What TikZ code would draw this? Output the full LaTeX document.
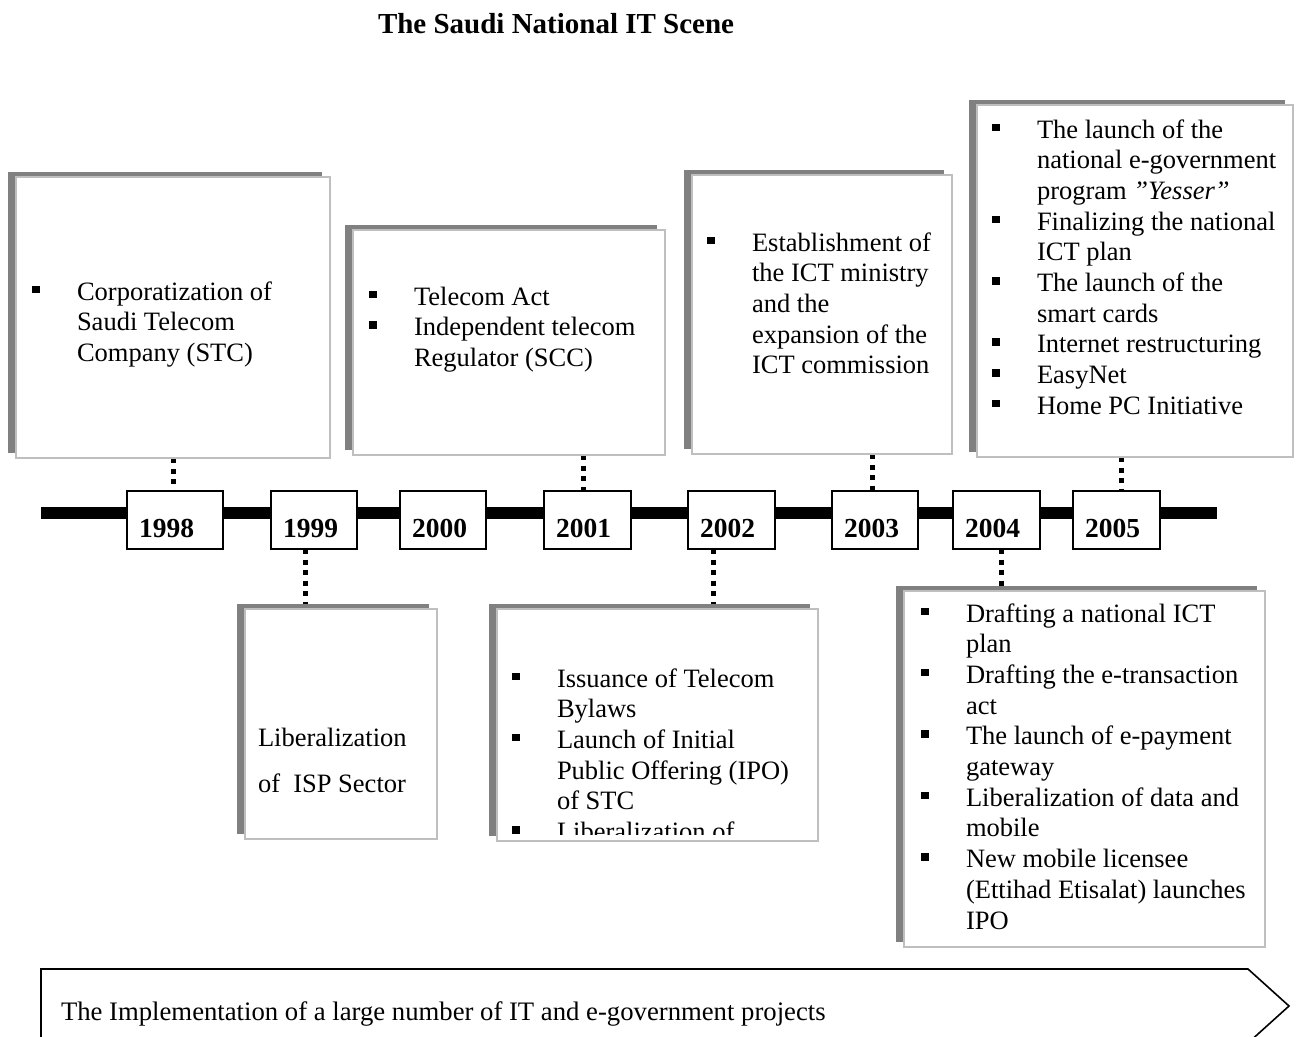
\documentclass[tikz,border=0pt]{standalone}
\usepackage{fontspec}
\setmainfont{Liberation Serif}
\usetikzlibrary{shadows,backgrounds}
\newcommand\bul{\llap{\rule[7pt]{7.5pt}{7.5pt}\hspace{37.5pt}}}
\newcommand\lns[1]{\begin{tabular}[t]{@{}l@{}}#1\end{tabular}}
\begin{document}
\begin{tikzpicture}[x=1pt,y=-1pt,
  every node/.style={inner sep=0pt, outer sep=0pt},
  card/.style={draw=black!25, line width=2pt, fill=white, anchor=north west,
    drop shadow={shadow xshift=-8pt, shadow yshift=5pt, fill=black!50, opacity=1}},
  yearbox/.style={draw=black, line width=2pt, fill=white, anchor=north west,
    minimum height=58pt, minimum width=87pt},
  yearlbl/.style={anchor=base west, font=\fontsize{27.5}{31}\selectfont\bfseries},
  body/.style={anchor=base west, align=left, font=\fontsize{26.5}{30.7}\selectfont},
  dotline/.style={line width=5pt, dash pattern=on 5pt off 5.5pt},
]
\useasboundingbox (0,0) rectangle (1301,1036);

% title
\node[anchor=base west, font=\fontsize{29}{34}\selectfont\bfseries] (title) at (378,33) {The Saudi National IT Scene};

% year boxes
\node[yearbox, minimum width=96pt] (y1998) at (127,491) {};
\node[yearbox, minimum width=86pt] (y1999) at (271,491) {};
\node[yearbox, minimum width=86pt] (y2000) at (400,491) {};
\node[yearbox, minimum width=87pt] (y2001) at (544,491) {};
\node[yearbox, minimum width=87pt] (y2002) at (688,491) {};
\node[yearbox, minimum width=86pt] (y2003) at (832,491) {};
\node[yearbox, minimum width=87pt] (y2004) at (953,491) {};
\node[yearbox, minimum width=87pt] (y2005) at (1073,491) {};
\node[yearlbl] (t1998) at (139,537) {1998};
\node[yearlbl] (t1999) at (283,537) {1999};
\node[yearlbl] (t2000) at (412,537) {2000};
\node[yearlbl] (t2001) at (556,537) {2001};
\node[yearlbl] (t2002) at (700,537) {2002};
\node[yearlbl] (t2003) at (844,537) {2003};
\node[yearlbl] (t2004) at (965,537) {2004};
\node[yearlbl] (t2005) at (1085,537) {2005};

% cards
\node[card, minimum width=314pt, minimum height=281pt] (b1998) at (16,177) {};
\node[card, minimum width=312pt, minimum height=225pt] (b2001) at (353,230) {};
\node[card, minimum width=260pt, minimum height=279pt] (b2003) at (692,175) {};
\node[card, minimum width=316pt, minimum height=352pt] (b2005) at (977,105) {};
\node[card, minimum width=192pt, minimum height=230pt] (b1999) at (245,609) {};
\node[card, minimum width=321pt, minimum height=232pt] (b2002) at (497,609) {};
\node[card, minimum width=361pt, minimum height=356pt] (b2004) at (904,591) {};

% card texts
\node[body] (x1998) at (77,300) {\lns{\bul Corporatization of\\ Saudi Telecom\\ Company (STC)}};
\node[body] (x2001) at (414,305) {\lns{\bul Telecom Act\\ \bul Independent telecom\\ Regulator (SCC)}};
\node[body] (x2003) at (752,251) {\lns{\bul Establishment of\\ the ICT ministry\\ and the\\ expansion of the\\ ICT commission}};
\node[body] (x2005) at (1037,138) {\lns{\bul The launch of the\\ national e-government\\ program \textit{”Yesser”}\\ \bul Finalizing the national\\ ICT plan\\ \bul The launch of the\\ smart cards\\ \bul Internet restructuring\\ \bul EasyNet\\ \bul Home PC Initiative}};
\node[body, font=\fontsize{26.5}{46}\selectfont] (x1999) at (258,746) {\lns{Liberalization\\ of\ \ ISP Sector}};
\begin{scope}
\clip (497,609) rectangle (818,834);
\node[body] (x2002) at (557,687) {\lns{\bul Issuance of Telecom\\ Bylaws\\ \bul Launch of Initial\\ Public Offering (IPO)\\ of STC\\ \bul Liberalization of}};
\end{scope}
\node[body] (x2004) at (966,622) {\lns{\bul Drafting a national ICT\\ plan\\ \bul Drafting the e-transaction\\ act\\ \bul The launch of e-payment\\ gateway\\ \bul Liberalization of data and\\ mobile\\ \bul New mobile licensee\\ (Ettihad Etisalat) launches\\ IPO}};

% bottom arrow
\coordinate (a1) at (41,969);
\coordinate (a2) at (1248,969);
\coordinate (a3) at (1289,1006);
\coordinate (a4) at (1248,1043);
\coordinate (a5) at (41,1043);
\draw[line width=1.6pt, line join=miter] (a1) -- (a2) -- (a3) -- (a4) -- (a5) -- cycle;
\node[anchor=base west, font=\fontsize{26.7}{30.7}\selectfont] (impl) at (61,1020) {The Implementation of a large number of IT and e-government projects};

\begin{pgfonlayer}{background}
\coordinate (tl0) at (41,513);
\coordinate (tl1) at (1217,513);
\draw[line width=12pt] (tl0) -- (tl1);
\draw[dotline] (173,0 |- b1998.south) -- (173,0 |- y1998.north);
\draw[dotline] (305,0 |- y1999.south) -- (305,0 |- b1999.north);
\draw[dotline] (583,0 |- b2001.south) -- (583,0 |- y2001.north);
\draw[dotline] (713,0 |- y2002.south) -- (713,0 |- b2002.north);
\draw[dotline] (872,0 |- b2003.south) -- (872,0 |- y2003.north);
\draw[dotline] (1001,0 |- y2004.south) -- (1001,0 |- b2004.north);
\draw[dotline] (1121,0 |- b2005.south) -- (1121,0 |- y2005.north);
\end{pgfonlayer}
\end{tikzpicture}
\end{document}
